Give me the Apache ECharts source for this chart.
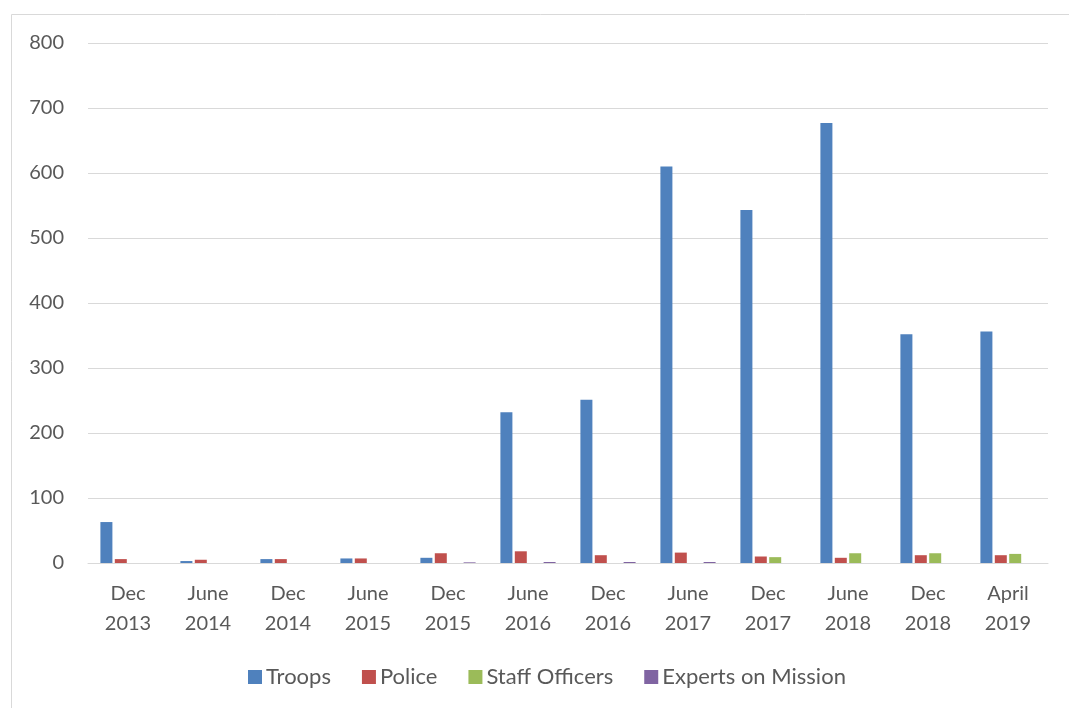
<!DOCTYPE html>
<html><head><meta charset="utf-8">
<script src="https://cdn.jsdelivr.net/npm/echarts@6/dist/echarts.min.js"></script>
<style>html,body{margin:0;padding:0;background:#fff}#c{width:1069px;height:708px}</style>
</head><body><div id="c"></div>
<script>
const categories = ["Dec\n2013","June\n2014","Dec\n2014","June\n2015","Dec\n2015","June\n2016","Dec\n2016","June\n2017","Dec\n2017","June\n2018","Dec\n2018","April\n2019"];
const troops = [63, 3, 6, 7, 8, 232, 251, 610, 543, 677, 352, 356];
const police = [6, 5, 6, 7, 15, 18, 12, 16, 10, 8, 12, 12];
const staffOfficers = [0, 0, 0, 0, 0, 0, 0, 0, 9, 15, 15, 14];
const experts = [0, 0, 0, 0, 1, 1.5, 1.5, 1.5, 0, 0, 0, 0];
const yTicks = [0, 100, 200, 300, 400, 500, 600, 700, 800];

const font = 'Lato';
const chart = echarts.init(document.getElementById('c'));
chart.setOption({
  animation: false,
  textStyle: {fontFamily: font},
  graphic: [{type:'rect', shape:{x:11.5,y:14.5,width:1060,height:700}, style:{fill:'none', stroke:'#d9d9d9', lineWidth:1}, silent:true}],
  grid: {left: 88, right: 21, top: 43, bottom: 145},
  legend: {
    bottom: 15, left: 243, itemWidth: 14, itemHeight: 14, itemGap: 31,
    icon: 'rect',
    textStyle: {fontSize: 22, color: '#595959', fontFamily: font, padding: [0,0,0,-1]},
    data: ['Troops','Police','Staff Officers','Experts on Mission']
  },
  xAxis: {
    type: 'category', data: categories,
    axisLine: {lineStyle: {color: '#d9d9d9', width: 1}},
    axisTick: {show: false},
    axisLabel: {fontSize: 20, color: '#595959', lineHeight: 30, margin: 16, fontFamily: font}
  },
  yAxis: {
    type: 'value', min: yTicks[0], max: yTicks[yTicks.length-1], interval: 100,
    axisLine: {show: false}, axisTick: {show: false},
    splitLine: {lineStyle: {color: '#d9d9d9', width: 1}},
    axisLabel: {fontSize: 20, color: '#595959', margin: 24, fontFamily: font}
  },
  series: [
    {name:'Troops', type:'bar', data: troops, itemStyle:{color:'#4f81bd'}, barWidth: 12, barGap: '20%', barCategoryGap: '31%'},
    {name:'Police', type:'bar', data: police, itemStyle:{color:'#c0504d'}, barWidth: 12},
    {name:'Staff Officers', type:'bar', data: staffOfficers, itemStyle:{color:'#9bbb59'}, barWidth: 12},
    {name:'Experts on Mission', type:'bar', data: experts, itemStyle:{color:'#8064a2'}, barWidth: 12}
  ]
});
</script></body></html>
